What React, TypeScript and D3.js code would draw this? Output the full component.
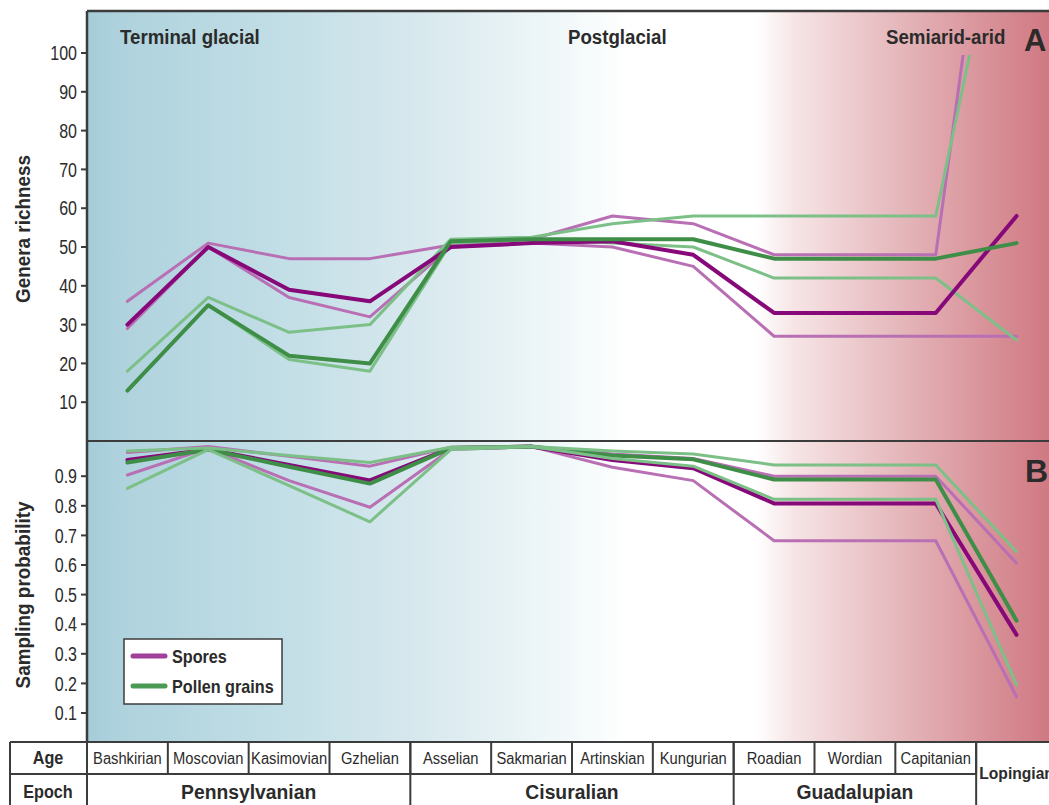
import React from "react";
import * as d3 from "d3";

const ages = ["Bashkirian", "Moscovian", "Kasimovian", "Gzhelian", "Asselian", "Sakmarian", "Artinskian", "Kungurian", "Roadian", "Wordian", "Capitanian", "Lopingian"];

const epochs = [
  { name: "Pennsylvanian", from: 0, to: 3 },
  { name: "Cisuralian", from: 4, to: 7 },
  { name: "Guadalupian", from: 8, to: 10 },
  { name: "Lopingian", from: 11, to: 11 },
];

const richnessTicks = [10, 20, 30, 40, 50, 60, 70, 80, 90, 100];
const probTicks = [0.1, 0.2, 0.3, 0.4, 0.5, 0.6, 0.7, 0.8, 0.9];

// Panel A: genera richness
const sporesRich = [30, 50, 39, 36, 50, 51, 51.5, 48, 33, 33, 33, 58];
const sporesRichUpper = [36, 51, 47, 47, 50.5, 52, 58, 56, 48, 48, 48, 200];
const sporesRichLower = [29, 50, 37, 32, 50, 51, 50, 45, 27, 27, 27, 27];
const pollenRich = [13, 35, 22, 20, 51.5, 52, 52, 52, 47, 47, 47, 51];
const pollenRichUpper = [18, 37, 28, 30, 52, 52.5, 56, 58, 58, 58, 58, 157];
const pollenRichLower = [13, 35, 21, 18, 51, 52, 51, 50, 42, 42, 42, 26];

// Panel B: sampling probability
const sporesProb = [0.955, 0.99, 0.938, 0.886, 0.995, 1.0, 0.955, 0.927, 0.808, 0.808, 0.808, 0.364];
const sporesProbUpper = [0.98, 1.0, 0.967, 0.934, 0.998, 1.0, 0.975, 0.96, 0.9, 0.9, 0.9, 0.606];
const sporesProbLower = [0.904, 0.995, 0.885, 0.795, 0.99, 1.0, 0.93, 0.885, 0.682, 0.682, 0.682, 0.155];
const pollenProb = [0.946, 0.99, 0.932, 0.875, 0.995, 1.0, 0.97, 0.957, 0.889, 0.889, 0.889, 0.412];
const pollenProbUpper = [0.985, 0.995, 0.97, 0.946, 0.998, 1.0, 0.985, 0.975, 0.938, 0.938, 0.938, 0.645];
const pollenProbLower = [0.859, 0.99, 0.868, 0.746, 0.99, 1.0, 0.96, 0.934, 0.822, 0.822, 0.822, 0.195];

const climateLabels = [
  { text: "Terminal glacial", x: 120 },
  { text: "Postglacial", x: 568 },
  { text: "Semiarid-arid", x: 886 },
];

const C = {
  darkPurple: "#860879",
  lightPurple: "#b86fb4",
  darkGreen: "#3f8e48",
  lightGreen: "#7cc088",
  ink: "#2b2b2b",
  frame: "#3c3c3c",
};

const FONT = "'Liberation Sans', Arial, Helvetica, sans-serif";

type CTProps = {
  x: number;
  y: number;
  sx?: number;
  rotate?: number;
  size: number;
  bold?: boolean;
  anchor?: "start" | "middle" | "end";
  dy?: string;
  children: React.ReactNode;
};

function CText({ x, y, sx = 1, rotate = 0, size, bold, anchor = "start", dy, children }: CTProps) {
  return (
    <text
      transform={`translate(${x},${y}) rotate(${rotate}) scale(${sx},1)`}
      textAnchor={anchor}
      fontSize={size}
      fontWeight={bold ? "bold" : "normal"}
      fill={C.ink}
      dy={dy}
    >
      {children}
    </text>
  );
}

export default function App() {
  const W = 1049;
  const H = 805;
  const left = 87;
  const right = 1057;
  const top = 11;
  const mid = 441;
  const tableTop = 742;
  const rowMid = 774;

  const x = d3.scaleBand<string>().domain(ages).range([left, right]).paddingInner(0).paddingOuter(0);
  const cx = (i: number) => (x(ages[i]) as number) + x.bandwidth() / 2;
  const yA = d3.scaleLinear().domain([0, 100]).range([mid, 53]);
  const yB = d3.scaleLinear().domain([0, 1]).range([742.6, 446.6]);

  const lineA = d3.line<number>().x((_, i) => cx(i)).y((d) => yA(d));
  const lineB = d3.line<number>().x((_, i) => cx(i)).y((d) => yB(d));

  const seriesA = [
    { d: sporesRichLower, c: C.lightPurple, w: 3 },
    { d: sporesRichUpper, c: C.lightPurple, w: 3 },
    { d: pollenRichLower, c: C.lightGreen, w: 3 },
    { d: pollenRichUpper, c: C.lightGreen, w: 3 },
    { d: sporesRich, c: C.darkPurple, w: 4 },
    { d: pollenRich, c: C.darkGreen, w: 4 },
  ];
  const seriesB = [
    { d: sporesProbLower, c: C.lightPurple, w: 3 },
    { d: sporesProbUpper, c: C.lightPurple, w: 3 },
    { d: sporesProb, c: C.darkPurple, w: 4 },
    { d: pollenProb, c: C.darkGreen, w: 4 },
    { d: pollenProbLower, c: C.lightGreen, w: 3 },
    { d: pollenProbUpper, c: C.lightGreen, w: 3 },
  ];

  const bandStart = (i: number) => x(ages[i]) as number;
  const bandEnd = (i: number) => (x(ages[i]) as number) + x.bandwidth();

  return (
    <svg width={W} height={H} style={{ position: "absolute", left: 0, top: 0, display: "block", background: "#fff" }} fontFamily={FONT}>
      <defs>
        <linearGradient id="climate" x1={left} x2={right} y1={0} y2={0} gradientUnits="userSpaceOnUse">
          <stop offset="0" stopColor="#a3ccd9" />
          <stop offset="0.03" stopColor="#aed2dd" />
          <stop offset="0.2" stopColor="#c2dee6" />
          <stop offset="0.36" stopColor="#daeaef" />
          <stop offset="0.5" stopColor="#f3f9fa" />
          <stop offset="0.56" stopColor="#ffffff" />
          <stop offset="0.69" stopColor="#ffffff" />
          <stop offset="0.73" stopColor="#f6e4e5" />
          <stop offset="0.84" stopColor="#e4b6ba" />
          <stop offset="0.93" stopColor="#d89198" />
          <stop offset="1" stopColor="#cf7580" />
        </linearGradient>
        <clipPath id="clipA">
          <rect x={left} y={yA(99.5)} width={right - left} height={mid - yA(99.5)} />
        </clipPath>
        <clipPath id="clipB">
          <rect x={left} y={mid} width={right - left} height={tableTop - mid} />
        </clipPath>
      </defs>

      <rect x={left} y={top} width={right - left} height={tableTop - top} fill="url(#climate)" />

      {climateLabels.map((l) => (
        <CText key={l.text} x={l.x} y={44} size={21} sx={0.89} bold>
          {l.text}
        </CText>
      ))}
      <CText x={1024} y={51} size={31} bold>A</CText>
      <CText x={1025} y={482} size={32} bold>B</CText>

      <g clipPath="url(#clipA)" fill="none" strokeLinejoin="round" strokeLinecap="round">
        {seriesA.map((s, i) => (
          <path key={i} d={lineA(s.d) as string} stroke={s.c} strokeWidth={s.w} />
        ))}
      </g>
      <g clipPath="url(#clipB)" fill="none" strokeLinejoin="round" strokeLinecap="round">
        {seriesB.map((s, i) => (
          <path key={i} d={lineB(s.d) as string} stroke={s.c} strokeWidth={s.w} />
        ))}
      </g>

      {/* frame */}
      <line x1={left} x2={right} y1={top} y2={top} stroke={C.frame} strokeWidth={2.5} />
      <line x1={left} x2={right} y1={mid} y2={mid} stroke={C.frame} strokeWidth={2} />
      <line x1={left} x2={left} y1={top} y2={tableTop} stroke={C.frame} strokeWidth={2.5} />

      {/* axes */}
      {richnessTicks.map((t) => (
        <g key={t}>
          <line x1={left - 6} x2={left} y1={yA(t)} y2={yA(t)} stroke={C.frame} strokeWidth={2} />
          <CText x={77} y={yA(t)} dy="0.36em" anchor="end" size={20} sx={0.8}>{t}</CText>
        </g>
      ))}
      {probTicks.map((t) => (
        <g key={t}>
          <line x1={left - 6} x2={left} y1={yB(t)} y2={yB(t)} stroke={C.frame} strokeWidth={2} />
          <CText x={77} y={yB(t)} dy="0.36em" anchor="end" size={20} sx={0.8}>{d3.format(".1f")(t)}</CText>
        </g>
      ))}
      <CText x={30} y={229} rotate={-90} anchor="middle" size={21} sx={0.9} bold>Genera richness</CText>
      <CText x={30} y={595} rotate={-90} anchor="middle" size={21} sx={0.9} bold>Sampling probability</CText>

      {/* legend */}
      <rect x={124} y={639} width={158} height={65} fill="#fff" stroke={C.frame} strokeWidth={1.5} />
      <line x1={133} x2={165} y1={656} y2={656} stroke="#a0409a" strokeWidth={5} strokeLinecap="round" />
      <line x1={133} x2={165} y1={686} y2={686} stroke="#4a9a55" strokeWidth={5} strokeLinecap="round" />
      <CText x={172} y={663} size={18} sx={0.9} bold>Spores</CText>
      <CText x={172} y={693} size={18} sx={0.9} bold>Pollen grains</CText>

      {/* table */}
      <g stroke={C.frame} strokeWidth={2}>
        <line x1={10} x2={right} y1={tableTop} y2={tableTop} />
        <line x1={10} x2={bandStart(11)} y1={rowMid} y2={rowMid} />
        <line x1={10} x2={10} y1={tableTop} y2={H} />
        <line x1={left} x2={left} y1={tableTop} y2={H} />
        {ages.slice(0, 11).map((a, i) => (
          <line key={a} x1={bandEnd(i)} x2={bandEnd(i)} y1={tableTop} y2={rowMid} />
        ))}
        {epochs.map((e) => (
          <line key={e.name} x1={bandEnd(e.to)} x2={bandEnd(e.to)} y1={tableTop} y2={H} />
        ))}
      </g>
      <CText x={48} y={764} anchor="middle" size={18} sx={0.9} bold>Age</CText>
      <CText x={48} y={798} anchor="middle" size={18} sx={0.9} bold>Epoch</CText>
      {ages.slice(0, 11).map((a, i) => (
        <CText key={a} x={cx(i)} y={764} anchor="middle" size={16} sx={0.92}>{a}</CText>
      ))}
      {epochs.map((e) =>
        e.from === 11 ? (
          <CText key={e.name} x={cx(11)} y={779} anchor="middle" size={17} sx={0.92} bold>{e.name}</CText>
        ) : (
          <CText key={e.name} x={(bandStart(e.from) + bandEnd(e.to)) / 2} y={799} anchor="middle" size={21} sx={0.92} bold>{e.name}</CText>
        )
      )}
    </svg>
  );
}
